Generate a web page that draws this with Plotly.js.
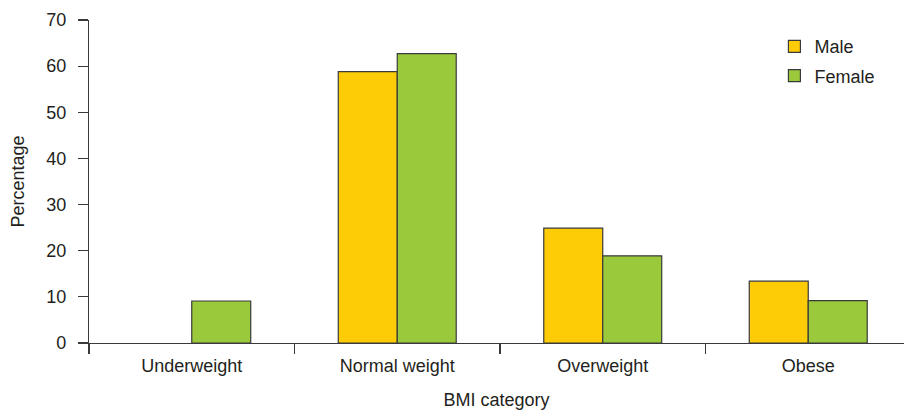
<!DOCTYPE html>
<html>
<head>
<meta charset="utf-8">
<script src="https://cdn.plot.ly/plotly-3.0.1.min.js"></script>
<style>html,body{margin:0;padding:0;background:#fff;}#chart{width:904px;height:413px;}</style>
</head>
<body>
<div id="chart"></div>
<script>
const categories = ["Underweight", "Normal weight", "Overweight", "Obese"];
const maleValues = [null, 58.8, 24.9, 13.4];
const femaleValues = [9.1, 62.7, 18.9, 9.2];
const seriesNames = ["Male", "Female"];
const yTicks = [0, 10, 20, 30, 40, 50, 60, 70];

const textColor = "#231f20";
const fontFamily = "'Liberation Sans', Arial, Helvetica, sans-serif";

const traces = [
  {type: "bar", name: seriesNames[0], legendgroup: "m", x: categories, y: maleValues,
   marker: {color: "#fecc06", line: {color: "#3a3a3a", width: 1.2}}},
  {type: "bar", name: seriesNames[1], legendgroup: "f", x: categories, y: femaleValues,
   marker: {color: "#9aca3c", line: {color: "#3a3a3a", width: 1.2}}}
];

const layout = {
  width: 904, height: 413,
  margin: {l: 89, r: 0, t: 20, b: 70},
  paper_bgcolor: "#fff", plot_bgcolor: "#fff",
  font: {family: fontFamily, color: textColor, size: 18},
  barmode: "group",
  bargap: 0.426,
  bargroupgap: 0,
  showlegend: true,
  legend: {x: 0.841, y: 0.975, xanchor: "left", yanchor: "top",
           font: {size: 18, color: textColor}, bgcolor: "rgba(0,0,0,0)",
           traceorder: "grouped", itemwidth: 30, tracegroupgap: 3},
  xaxis: {
    type: "category",
    range: [-0.5, 3.466],
    showline: true, linecolor: "#3a3a3a", linewidth: 1.2,
    ticks: "outside", tickson: "boundaries", ticklen: 10, tickcolor: "#3a3a3a", tickwidth: 1.2,
    ticklabelstandoff: 6,
    showgrid: false, zeroline: false,
    tickfont: {size: 18, color: textColor},
    title: {text: "BMI category", font: {size: 18, color: textColor}, standoff: 18}
  },
  yaxis: {
    range: [0, 70],
    tickvals: yTicks,
    showline: true, linecolor: "#3a3a3a", linewidth: 1.2,
    ticks: "outside", ticklen: 10, tickcolor: "#3a3a3a", tickwidth: 1.2,
    ticklabelstandoff: 8,
    showgrid: false, zeroline: false,
    tickfont: {size: 18, color: textColor},
    title: {text: "Percentage", font: {size: 18, color: textColor}, standoff: 16}
  }
};

Plotly.newPlot("chart", traces, layout, {displayModeBar: false, staticPlot: true});
</script>
</body>
</html>
